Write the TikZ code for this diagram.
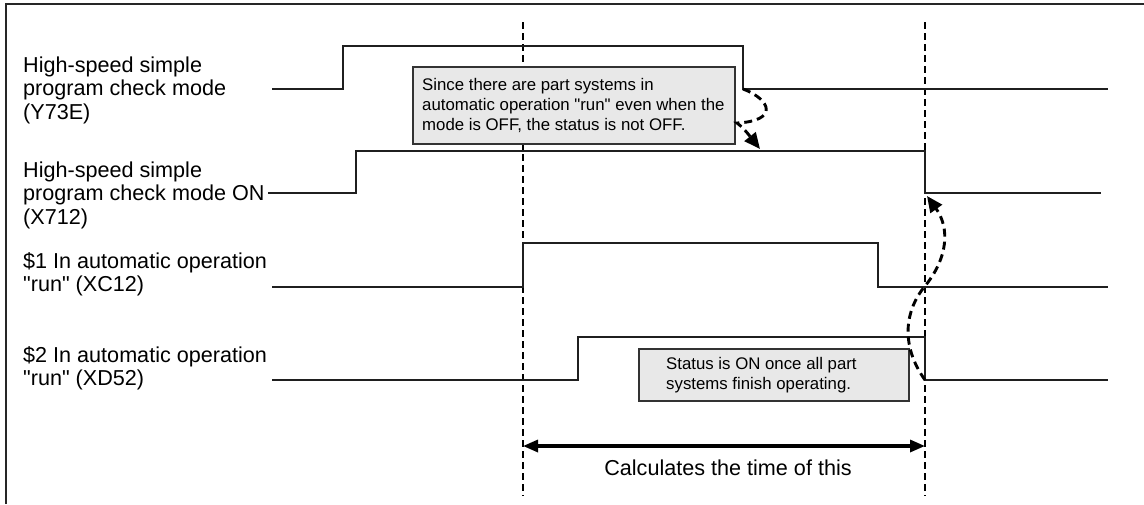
\documentclass[tikz,border=0pt]{standalone}
\usepackage{fontspec}
\setmainfont{Liberation Sans}[Ligatures=TeXOff]
\usetikzlibrary{arrows.meta}
\begin{document}
\begin{tikzpicture}[x=1pt,y=-1pt,
  sig/.style={line width=1.8pt, draw=black!88},
  vguide/.style={line width=2.3pt, dash pattern=on 7pt off 4pt, draw=black},
  curvearrow/.style={line width=2.9pt, dash pattern=on 8pt off 5pt, draw=black, -{Triangle[length=16pt,width=14pt]}},
  notebox/.style={draw=black!80, line width=1.8pt, fill=black!9, inner sep=0pt},
  lbl/.style={font=\fontsize{21.6}{23.5}\selectfont, align=left, anchor=west, inner sep=0pt},
  notetext/.style={font=\fontsize{16.8}{20}\selectfont, align=left, anchor=west, inner sep=0pt},
  spanarrow/.style={line width=3.2pt, draw=black, {Triangle[length=15pt,width=12pt]}-{Triangle[length=15pt,width=12pt]}},
  framestyle/.style={line width=2.8pt, draw=black!85},
]
\useasboundingbox (0,0) rectangle (1144,504);

% frame
\coordinate (fbl) at (6,504);
\coordinate (ftl) at (6,4);
\coordinate (ftr) at (1144,4);
\draw[framestyle] (fbl) -- (ftl) -- (ftr);

% vertical guides
\coordinate (g1t) at (523,22);
\coordinate (g1b) at (523,496);
\coordinate (g2t) at (925,22);
\coordinate (g2b) at (925,496);
\draw[vguide] (g1t) -- (g1b);
\draw[vguide] (g2t) -- (g2b);

% labels
\node[lbl] (l1) at (23,90) {High-speed simple\\program check mode\\(Y73E)};
\node[lbl] (l2) at (23,195) {High-speed simple\\program check mode ON\\(X712)};
\node[lbl] (l3) at (23,274) {\$1 In automatic operation\\"run" (XC12)};
\node[lbl] (l4) at (23,368) {\$2 In automatic operation\\"run" (XD52)};

% note boxes
\node[notebox, minimum width=322pt, minimum height=77pt, anchor=north west] (box1) at (412,66) {};
\node[notetext] (box1text) at ([xshift=10pt]box1.west) {Since there are part systems in\\automatic operation "run" even when the\\mode is OFF, the status is not OFF.};
\node[notebox, minimum width=270pt, minimum height=52pt, anchor=north west] (box2) at (638,348) {};
\node[notetext] (box2text) at ([xshift=28pt]box2.west) {Status is ON once all part\\systems finish operating.};

% signals
\coordinate (s1a) at (272,89);  \coordinate (s1b) at (343,89);  \coordinate (s1c) at (343,46);
\coordinate (s1d) at (743,46);  \coordinate (s1e) at (743,89);  \coordinate (s1f) at (1108,89);
\draw[sig] (s1a) -- (s1b) -- (s1c) -- (s1d) -- (s1e) -- (s1f);

\coordinate (s2a) at (268,193); \coordinate (s2b) at (356,193); \coordinate (s2c) at (356,151);
\coordinate (s2d) at (925,151); \coordinate (s2e) at (925,193); \coordinate (s2f) at (1101,193);
\draw[sig] (s2a) -- (s2b) -- (s2c) -- (s2d) -- (s2e) -- (s2f);

\coordinate (s3a) at (272,287); \coordinate (s3b) at (523,287); \coordinate (s3c) at (523,243);
\coordinate (s3d) at (878,243); \coordinate (s3e) at (878,287); \coordinate (s3f) at (1108,287);
\draw[sig] (s3a) -- (s3b) -- (s3c) -- (s3d) -- (s3e) -- (s3f);

\coordinate (s4a) at (272,380); \coordinate (s4b) at (578,380); \coordinate (s4c) at (578,337);
\coordinate (s4d) at (925,337); \coordinate (s4e) at (925,380); \coordinate (s4f) at (1108,380);
\draw[sig] (s4a) -- (s4b) -- (s4c) -- (s4d) -- (s4e) -- (s4f);

% curved dashed arrows
\coordinate (a1m) at (737,123);
\coordinate (a1t) at (760,149);
\draw[curvearrow] (s1e) .. controls (772,100) and (778,121) .. (a1m) .. controls (745,129) and (752,139) .. (a1t);

\coordinate (a2m) at (925,286);
\coordinate (a2t) at (927,196);
\draw[curvearrow] (s4e) .. controls (900,345) and (905,310) .. (a2m) .. controls (948,258) and (950,228) .. (a2t);

% span arrow
\coordinate (spl) at (523,446);
\coordinate (spr) at (925,446);
\draw[spanarrow] (spl) -- (spr);
\node[font=\fontsize{21.6}{24}\selectfont, inner sep=0pt] (calc) at (728,468) {Calculates the time of this};
\end{tikzpicture}
\end{document}
